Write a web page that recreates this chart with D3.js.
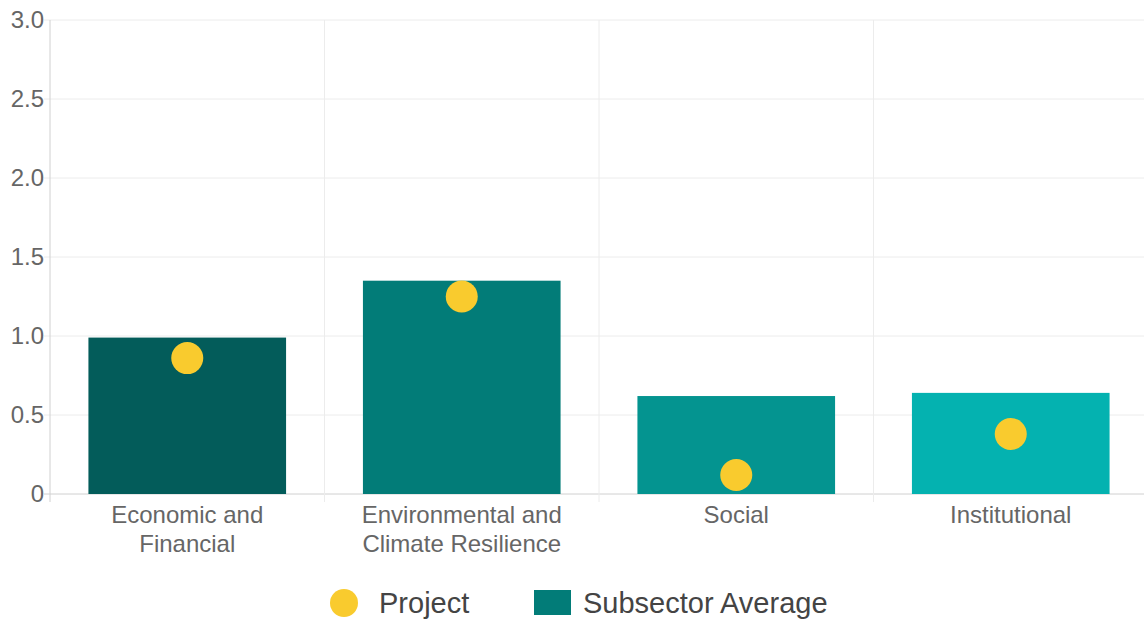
<!DOCTYPE html>
<html>
<head>
<meta charset="utf-8">
<script src="https://cdn.jsdelivr.net/npm/d3@7"></script>
<style>
  body { margin: 0; background: #fff; }
  text { font-family: "Liberation Sans", Arial, sans-serif; }
</style>
</head>
<body>
<div id="chart"></div>
<script>
const categories = [["Economic and", "Financial"], ["Environmental and", "Climate Resilience"], ["Social"], ["Institutional"]];
const subsectorAverage = [0.99, 1.35, 0.62, 0.64];
const project = [0.86, 1.25, 0.12, 0.38];
const barColors = ["#035c5a", "#027c78", "#049490", "#04b2b0"];
const yTicks = [0, 0.5, 1.0, 1.5, 2.0, 2.5, 3.0];

const width = 1144, height = 621;
const margin = { top: 20, right: -4, bottom: 127, left: 50 };

const svg = d3.select("#chart").append("svg")
    .attr("width", width)
    .attr("height", height);

const x = d3.scaleBand()
    .domain(d3.range(categories.length))
    .range([margin.left, width - margin.right]);

const y = d3.scaleLinear()
    .domain([0, 3])
    .range([height - margin.bottom, margin.top]);

// horizontal grid
svg.append("g")
    .selectAll("line")
    .data(yTicks)
    .join("line")
    .attr("x1", margin.left - 6)
    .attr("x2", width)
    .attr("y1", d => y(d))
    .attr("y2", d => y(d))
    .attr("stroke", d => d === 0 ? "#d0d0d0" : "#ececec")
    .attr("stroke-width", 1);

// vertical grid at category boundaries
const bounds = d3.range(categories.length + 1).map(i => margin.left + i * x.step());
svg.append("g")
    .selectAll("line")
    .data(bounds)
    .join("line")
    .attr("x1", d => d)
    .attr("x2", d => d)
    .attr("y1", margin.top)
    .attr("y2", y(0) + 8)
    .attr("stroke", (d, i) => i === 0 ? "#d0d0d0" : "#ececec")
    .attr("stroke-width", 1);

// y tick labels
svg.append("g")
    .selectAll("text")
    .data(yTicks)
    .join("text")
    .attr("x", margin.left - 6)
    .attr("y", d => y(d))
    .attr("dy", "0.35em")
    .attr("text-anchor", "end")
    .attr("fill", "#666")
    .style("font-size", "24px")
    .text(d => d === 0 ? "0" : d.toFixed(1));

// bars
const barW = x.step() * 0.72;
svg.append("g")
    .selectAll("rect")
    .data(subsectorAverage)
    .join("rect")
    .attr("x", (d, i) => x(i) + x.step() / 2 - barW / 2)
    .attr("width", barW)
    .attr("y", d => y(d))
    .attr("height", d => y(0) - y(d))
    .attr("fill", (d, i) => barColors[i]);

// project points
svg.append("g")
    .selectAll("circle")
    .data(project)
    .join("circle")
    .attr("cx", (d, i) => x(i) + x.step() / 2)
    .attr("cy", d => y(d))
    .attr("r", 16)
    .attr("fill", "#f9cb2e");

// x labels
const xl = svg.append("g")
    .selectAll("text")
    .data(categories)
    .join("text")
    .attr("x", (d, i) => x(i) + x.step() / 2)
    .attr("y", y(0) + 29)
    .attr("text-anchor", "middle")
    .attr("fill", "#666")
    .style("font-size", "24px");
xl.selectAll("tspan")
    .data(d => d)
    .join("tspan")
    .attr("x", function () { return d3.select(this.parentNode).attr("x"); })
    .attr("dy", (d, i) => i === 0 ? 0 : 29)
    .text(d => d);

// legend
const legend = svg.append("g");
legend.append("circle")
    .attr("cx", 344).attr("cy", 603).attr("r", 14)
    .attr("fill", "#f9cb2e");
legend.append("text")
    .attr("x", 379).attr("y", 603).attr("dy", "0.35em")
    .attr("fill", "#444")
    .style("font-size", "29px")
    .text("Project");
legend.append("rect")
    .attr("x", 534).attr("y", 590).attr("width", 37).attr("height", 25)
    .attr("fill", "#027c78");
legend.append("text")
    .attr("x", 583).attr("y", 603).attr("dy", "0.35em")
    .attr("fill", "#444")
    .style("font-size", "29px")
    .text("Subsector Average");
</script>
</body>
</html>
